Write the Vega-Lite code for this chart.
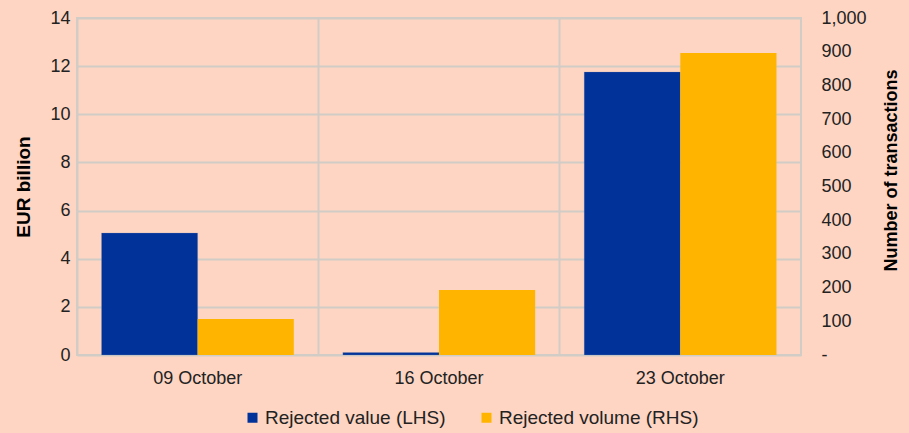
{
  "$schema": "https://vega.github.io/schema/vega-lite/v6.json",
  "width": 724,
  "height": 337,
  "autosize": {"type": "none"},
  "padding": {"left": 77, "top": 18, "right": 108, "bottom": 78},
  "background": "#FDD5C2",
  "config": {
    "font": "Liberation Sans",
    "view": {"stroke": "#D2CCC6", "strokeWidth": 2},
    "axis": {"labelFont": "Liberation Sans", "titleFont": "Liberation Sans", "labelColor": "#222222", "titleColor": "#000000", "gridColor": "#D2CCC6", "gridWidth": 2, "ticks": false, "tickSize": 0, "domain": false}
  },
  "data": {
    "values": [
      {"date": "09 October", "series": "Rejected value (LHS)", "value": 5.07},
      {"date": "16 October", "series": "Rejected value (LHS)", "value": 0.1},
      {"date": "23 October", "series": "Rejected value (LHS)", "value": 11.76},
      {"date": "09 October", "series": "Rejected volume (RHS)", "value": 107},
      {"date": "16 October", "series": "Rejected volume (RHS)", "value": 193},
      {"date": "23 October", "series": "Rejected volume (RHS)", "value": 896}
    ]
  },
  "encoding": {
    "x": {
      "field": "date", "type": "nominal", "sort": null,
      "scale": {"paddingInner": 0, "paddingOuter": 0},
      "axis": {"title": null, "labelAngle": 0, "labelFontSize": 18, "labelPadding": 14, "grid": true, "bandPosition": 0}
    },
    "xOffset": {
      "field": "series", "type": "nominal",
      "scale": {"domain": ["Rejected value (LHS)", "Rejected volume (RHS)"], "paddingInner": 0, "paddingOuter": 0.255}
    },
    "color": {
      "field": "series", "type": "nominal",
      "scale": {"domain": ["Rejected value (LHS)", "Rejected volume (RHS)"], "range": ["#003299", "#FFB400"]},
      "legend": {"title": null, "orient": "none", "legendX": 166, "legendY": 390, "direction": "horizontal", "symbolType": "square", "symbolSize": 100, "symbolStrokeWidth": 0, "labelFontSize": 19, "labelLimit": 0, "labelColor": "#222222", "columnPadding": 31, "labelOffset": 3}
    }
  },
  "layer": [
    {
      "transform": [{"filter": "datum.series == 'Rejected value (LHS)'"}],
      "mark": {"type": "bar", "stroke": "#9AA0B8", "strokeWidth": 0.5, "strokeOpacity": 0.5},
      "encoding": {
        "y": {
          "field": "value", "type": "quantitative",
          "scale": {"domain": [0, 14]},
          "axis": {"title": "EUR billion", "orient": "left", "values": [0, 2, 4, 6, 8, 10, 12, 14], "labelFontSize": 18, "labelPadding": 7, "titleFontSize": 19, "titleFontWeight": "bold", "titlePadding": 16, "grid": true}
        }
      }
    },
    {
      "transform": [{"filter": "datum.series == 'Rejected volume (RHS)'"}],
      "mark": {"type": "bar"},
      "encoding": {
        "y": {
          "field": "value", "type": "quantitative",
          "scale": {"domain": [0, 1000]},
          "axis": {"title": "Number of transactions", "orient": "right", "titleAngle": 270, "titleY": 152, "values": [0, 100, 200, 300, 400, 500, 600, 700, 800, 900, 1000], "labelExpr": "datum.value == 0 ? '-' : format(datum.value, ',')", "labelFontSize": 18, "labelPadding": 20, "titleFontSize": 18, "titleFontWeight": "bold", "titlePadding": 34, "grid": false}
        }
      }
    }
  ],
  "resolve": {"scale": {"y": "independent"}}
}
